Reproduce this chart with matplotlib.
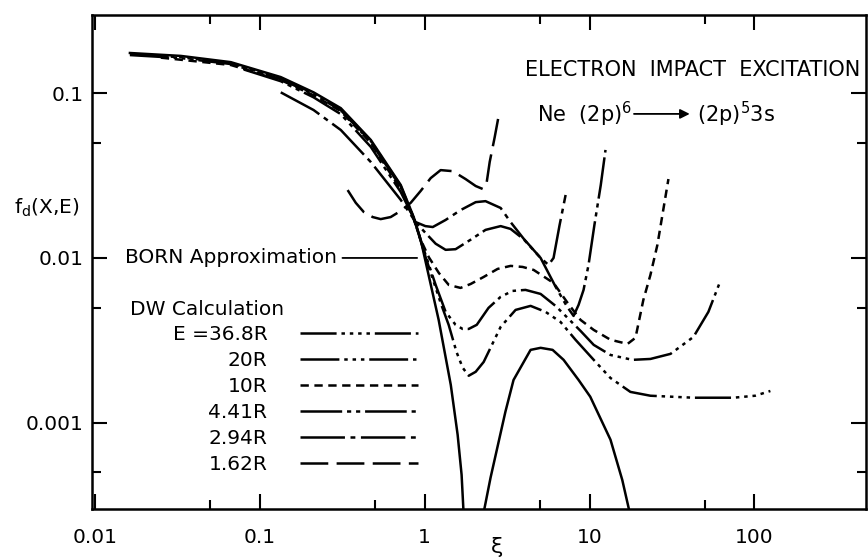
import matplotlib
matplotlib.use('Agg')
import matplotlib.pyplot as plt
from matplotlib.ticker import LogLocator, FuncFormatter, NullFormatter

# values (xi, f_d)
born_xi = [0.0163, 0.0332, 0.0667, 0.134, 0.212, 0.31, 0.471, 0.716, 0.858, 0.946,
           1.014, 1.216, 1.44, 1.585, 1.675, 1.72]
born_f = [0.175, 0.168, 0.154, 0.125, 0.101, 0.081, 0.052, 0.0277, 0.0177, 0.0129,
          0.00946, 0.00421, 0.0017, 0.000846, 0.000484, 0.00029]
born2_xi = [2.27, 2.51, 2.77, 3.09, 3.46, 4.39, 5.05, 5.97, 6.96, 8.58, 10.1, 13.4, 15.8, 17.6]
born2_f = [0.00028, 0.000465, 0.00072, 0.00117, 0.00182, 0.00277, 0.00285, 0.00277,
           0.00241, 0.00182, 0.00144, 0.00079, 0.00045, 0.00028]

e368_xi = [0.0163, 0.0332, 0.0667, 0.134, 0.212, 0.31, 0.471, 0.716, 0.858, 0.946,
           1.014, 1.166, 1.25, 1.398, 1.56, 1.70, 1.85, 2.04, 2.28, 2.89, 3.56, 4.39,
           5.41, 6.67, 8.22, 10.6, 13.4, 17.7, 23.4, 42.7, 74.6, 101, 125]
e368_f = [0.172, 0.165, 0.152, 0.123, 0.0995, 0.0798, 0.0513, 0.0273, 0.0175, 0.0127,
          0.0101, 0.0066, 0.00534, 0.00393, 0.00269, 0.00216, 0.00193, 0.00204, 0.00234,
          0.00382, 0.00484, 0.00512, 0.00471, 0.00409, 0.00319, 0.00241, 0.00187, 0.00154,
          0.00146, 0.00142, 0.00142, 0.00146, 0.00156]

e20_xi = [0.0163, 0.0332, 0.0667, 0.134, 0.212, 0.31, 0.471, 0.716, 0.858, 0.946,
          1.014, 1.166, 1.34, 1.54, 1.70, 1.85, 2.07, 2.44, 2.89, 3.41, 4.09, 5.05,
          6.22, 7.36, 8.82, 10.6, 13.4, 18.2, 23.4, 31.0, 42.7, 52.6, 62.2]
e20_f = [0.170, 0.163, 0.150, 0.1215, 0.098, 0.0787, 0.0505, 0.0269, 0.0174, 0.0128,
         0.0104, 0.00686, 0.00471, 0.00393, 0.00371, 0.00371, 0.00393, 0.00498, 0.00581,
         0.00631, 0.0064, 0.00605, 0.00512, 0.00433, 0.00361, 0.00297, 0.00258, 0.00241,
         0.00244, 0.00262, 0.00332, 0.00471, 0.00726]

e10_xi = [0.0251, 0.0667, 0.134, 0.212, 0.31, 0.471, 0.716, 0.858, 0.946, 1.06, 1.22,
          1.40, 1.65, 1.90, 2.28, 2.77, 3.32, 3.93, 4.58, 6.05, 7.36, 8.82, 10.6, 13.4,
          17.0, 19.0, 21.2, 23.4, 25.8, 30.1]
e10_f = [0.164, 0.148, 0.120, 0.0969, 0.0777, 0.0499, 0.026, 0.0172, 0.0129, 0.0101,
         0.0081, 0.00686, 0.00658, 0.00695, 0.00767, 0.00858, 0.00895, 0.00882, 0.00846,
         0.00705, 0.00534, 0.00421, 0.00366, 0.00319, 0.00301, 0.00328, 0.00556, 0.00788,
         0.012, 0.0301]

e441_xi = [0.08, 0.134, 0.212, 0.31, 0.471, 0.716, 0.882, 1.01, 1.166, 1.34, 1.54, 1.90,
           2.34, 2.89, 3.32, 3.98, 5.05, 6.22, 7.26, 8.0, 8.58, 9.2, 9.86, 10.7, 11.7, 12.5]
e441_f = [0.139, 0.118, 0.0942, 0.0745, 0.0472, 0.0251, 0.0165, 0.0142, 0.0122, 0.0112,
          0.0113, 0.0129, 0.0148, 0.0156, 0.0150, 0.0130, 0.0100, 0.0067, 0.00512, 0.00445,
          0.00519, 0.0064, 0.00907, 0.0158, 0.0277, 0.0452]

e294_xi = [0.134, 0.212, 0.31, 0.471, 0.716, 0.882, 1.01, 1.12, 1.34, 1.65, 2.04, 2.34,
           2.89, 3.32, 3.98, 5.05, 5.64, 6.05, 6.58, 7.16]
e294_f = [0.101, 0.0789, 0.0597, 0.0382, 0.0225, 0.0165, 0.0156, 0.0154, 0.0170, 0.0195,
          0.0218, 0.0221, 0.0201, 0.0165, 0.0131, 0.0100, 0.00907, 0.0100, 0.0158, 0.0241]

e162_xi = [0.341, 0.382, 0.427, 0.484, 0.541, 0.622, 0.716, 0.823, 0.946, 1.088, 1.25,
           1.48, 1.77, 2.04, 2.25, 2.38, 2.48, 2.66, 2.81]
e162_f = [0.0258, 0.0216, 0.019, 0.0177, 0.0172, 0.0177, 0.0193, 0.0216, 0.0255, 0.0305,
          0.0341, 0.0336, 0.0301, 0.0273, 0.0262, 0.0289, 0.0382, 0.0541, 0.0726]

energies = ['E =36.8R', '20R', '10R', '4.41R', '2.94R', '1.62R']

plt.rcParams['font.family'] = ['DejaVu Sans']
plt.rcParams['font.size'] = 14.5
plt.rcParams['lines.scale_dashes'] = False

fig = plt.figure(figsize=(8.68, 5.6), dpi=100)
ax = fig.add_axes([0.106, 0.091, 0.892, 0.882])
ax.set_xscale('log')
ax.set_yscale('log')
ax.set_xlim(0.0096, 477)
ax.set_ylim(3.0e-4, 0.297)

lw = 1.8
k = 'black'
ax.plot(born_xi, born_f, color=k, lw=lw)
ax.plot(born2_xi, born2_f, color=k, lw=lw)
l368, = ax.plot(e368_xi, e368_f, color=k, lw=lw,
                dashes=(26, 3.5, 2.5, 3.5, 2.5, 3.5, 2.5, 3.5, 2.5, 3.5))
l20, = ax.plot(e20_xi, e20_f, color=k, lw=lw,
               dashes=(28, 3.5, 2.5, 3.5, 2.5, 3.5, 2.5, 3.5))
l10, = ax.plot(e10_xi, e10_f, color=k, lw=lw, dashes=(6, 4))
l441, = ax.plot(e441_xi, e441_f, color=k, lw=lw, dashes=(30, 3.5, 3, 3.5, 3, 3.5))
l294, = ax.plot(e294_xi, e294_f, color=k, lw=lw, dashes=(32, 4, 3.5, 4))
l162, = ax.plot(e162_xi, e162_f, color=k, lw=lw, dashes=(20, 6))

ax.legend([l368, l20, l10, l441, l294, l162], energies, markerfirst=False,
          frameon=False, handlelength=5.9, handletextpad=1.6, labelspacing=0.35,
          loc='upper right', bbox_to_anchor=(0.432, 0.389), borderaxespad=0)
ax.text(0.049, 0.405, 'DW Calculation', transform=ax.transAxes, ha='left', va='center')

ax.annotate('BORN Approximation', xy=(0.9, 0.01), xytext=(0.0152, 0.01),
            ha='left', va='center',
            arrowprops=dict(arrowstyle='-', lw=1.3, color=k, shrinkA=2, shrinkB=0))

ax.text(0.992, 0.889, 'ELECTRON  IMPACT  EXCITATION', transform=ax.transAxes,
        ha='right', va='center', fontsize=15)
ax.text(0.575, 0.798, r'Ne  (2p)$^{\mathregular{6}}$', transform=ax.transAxes,
        ha='left', va='center', fontsize=15)
ax.annotate('', xy=(0.772, 0.800), xytext=(0.700, 0.800), xycoords='axes fraction',
            arrowprops=dict(arrowstyle='-|>', lw=1.3, color=k, mutation_scale=14,
                            shrinkA=0, shrinkB=0))
ax.text(0.781, 0.798, r'(2p)$^{\mathregular{5}}$3s', transform=ax.transAxes,
        ha='left', va='center', fontsize=15)

for s in ax.spines.values():
    s.set_linewidth(1.8)

fmt = FuncFormatter(lambda v, p: f'{v:g}')
for axis in (ax.xaxis, ax.yaxis):
    axis.set_major_locator(LogLocator(base=10, numticks=20))
    axis.set_minor_locator(LogLocator(base=10, subs=[5.0], numticks=20))
    axis.set_major_formatter(fmt)
    axis.set_minor_formatter(NullFormatter())
ax.tick_params(which='both', direction='in', top=True, right=True, width=1.5)
ax.tick_params(which='major', length=11)
ax.tick_params(which='minor', length=6.5)
ax.tick_params(axis='x', which='major', pad=14)
ax.tick_params(axis='y', which='major', pad=6)

ax.set_ylabel(r'f$_{\mathregular{d}}$(X,E)', rotation=0, ha='center', va='center')
ax.yaxis.set_label_coords(-0.058, 0.61)
ax.set_xlabel('ξ', fontsize=16, va='center')
ax.xaxis.set_label_coords(0.523, -0.076)

fig.savefig('out.png', dpi=100)
